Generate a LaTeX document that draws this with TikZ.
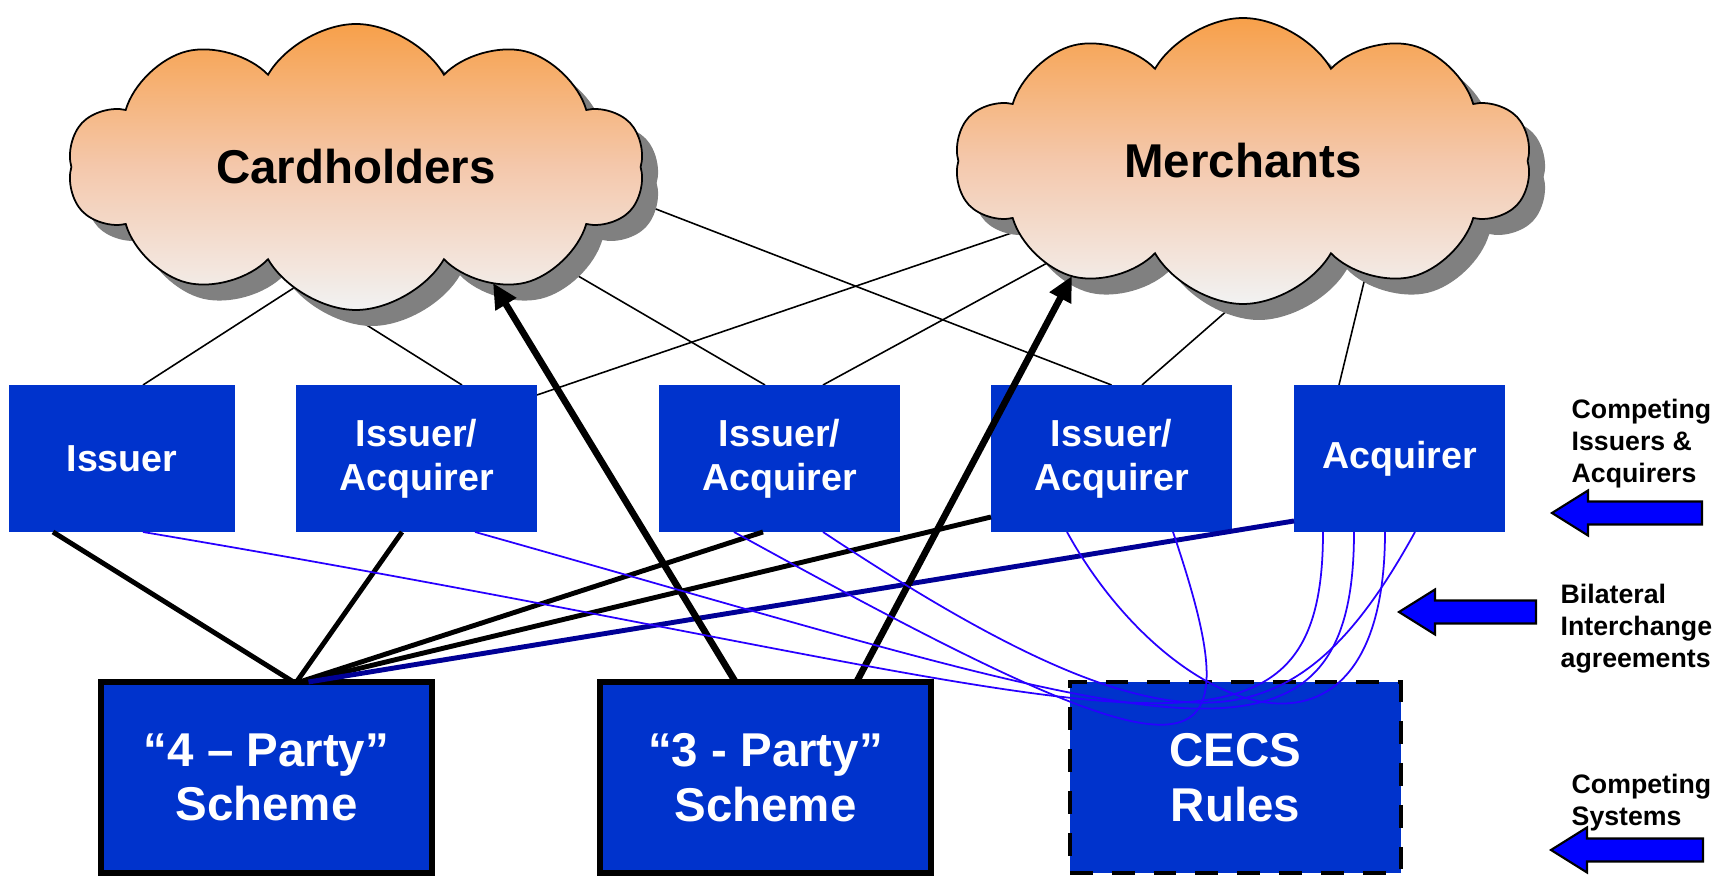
\documentclass[tikz,border=0pt]{standalone}
\usepackage{fontspec}
\setmainfont{Liberation Sans}
\usetikzlibrary{positioning,shapes.symbols,shadows,arrows.meta,backgrounds}

\definecolor{boxblue}{RGB}{0,51,204}
\definecolor{dealblue}{RGB}{40,0,255}
\definecolor{navyline}{RGB}{0,0,150}
\definecolor{hintblue}{RGB}{0,0,255}
\definecolor{cloudtop}{RGB}{247,160,74}
\definecolor{cloudmid}{RGB}{244,200,172}
\definecolor{cloudbot}{RGB}{242,242,242}
\definecolor{shadowgray}{RGB}{128,128,128}

\begin{document}
\begin{tikzpicture}[
    crowd/.style={cloud, cloud puffs=10, cloud puff arc=120, aspect=2,
      draw=black, line width=0.5pt,
      top color=cloudtop, bottom color=cloudbot, middle color=cloudmid,
      drop shadow={shadow xshift=0.16cm, shadow yshift=-0.16cm,
        fill=shadowgray, opacity=1},
      minimum width=5.76cm, minimum height=2.86cm, inner sep=0,
      font=\fontsize{13.5}{16}\selectfont\bfseries},
    topbox/.style={fill=boxblue, text=white, align=center,
      minimum height=1.47cm, inner sep=0, outer sep=0,
      font=\fontsize{10.7}{12.5}\selectfont\bfseries},
    scheme/.style={draw=black, line width=1.7pt, fill=boxblue, text=white,
      align=center, minimum width=3.31cm, minimum height=1.91cm,
      inner sep=0, outer sep=0,
      font=\fontsize{13.5}{15.6}\selectfont\bfseries},
    rules/.style={scheme, line width=1.4pt, dash pattern=on 6.5pt off 5.4pt},
    note/.style={anchor=west, align=left, inner sep=0,
      font=\fontsize{7.6}{9.1}\selectfont\bfseries},
    link/.style={draw=black, line width=0.45pt},
    tie/.style={draw=black, line width=1.4pt},
    push/.style={draw=black, line width=1.9pt,
      -{Triangle[length=0.25cm,width=0.23cm]}},
    deal/.style={draw=dealblue, line width=0.5pt},
    hint/.style={fill=hintblue, draw=black, line width=0.6pt}
  ]
  \useasboundingbox (0,0) rectangle (17.25,-8.76);

  % clouds
  \node[crowd] (card) at (3.56,-1.67) {Cardholders};
  \node[crowd, right=3.16cm of card, yshift=0.06cm] (merch) {Merchants};

  % issuers and acquirers
  \node[topbox, minimum width=2.26cm] (iss) at (1.22,-4.585) {Issuer};
  \node[topbox, minimum width=2.41cm, right=0.61cm of iss] (isac1) {Issuer/\\Acquirer};
  \node[topbox, minimum width=2.41cm, right=1.22cm of isac1] (isac2) {Issuer/\\Acquirer};
  \node[topbox, minimum width=2.41cm, right=0.91cm of isac2] (isac3) {Issuer/\\Acquirer};
  \node[topbox, minimum width=2.11cm, right=0.62cm of isac3] (acq) {Acquirer};

  % schemes
  \node[scheme] (four) at (2.665,-7.775) {“4 – Party”\\Scheme};
  \node[scheme, right=1.68cm of four] (three) {“3 - Party”\\Scheme};
  \node[rules, right=1.39cm of three] (cecs) {CECS\\Rules};

  % side notes
  \node[note] (n1) at (15.71,-4.44) {Competing\\Issuers \&\\Acquirers};
  \node[note] (n2) at (15.60,-6.29) {Bilateral\\Interchange\\agreements};
  \node[note] (n3) at (15.71,-8.03) {Competing\\Systems};
  \foreach \x/\y/\l in {15.52/-5.13/1.50, 13.99/-6.12/1.37, 15.51/-8.50/1.52}
    \draw[hint] (\x,\y) -- ++(0.36,0.225) -- ++(0,-0.11) -- ++(\l-0.36,0)
      -- ++(0,-0.23) -- ++(-\l+0.36,0) -- ++(0,-0.11) -- cycle;

  % customers to banks
  \begin{scope}[on background layer]
    \draw[link] ([shift={(-0.53,-1.15)}]card.center) -- ([xshift=0.21cm]iss.north);
    \draw[link] ([shift={(-0.34,-1.30)}]card.center) -- ([xshift=0.455cm]isac1.north);
    \draw[link] ([shift={(1.33,-0.57)}]card.center) -- ([xshift=-0.145cm]isac2.north);
    \draw[link] ([shift={(1.47,0.17)}]card.center) -- (isac3.north);
    \draw[link] ([shift={(-1.23,-0.35)}]merch.center) -- ([yshift=-0.1cm]isac1.north east);
    \draw[link] ([shift={(-1.37,-0.70)}]merch.center) -- ([xshift=0.435cm]isac2.north);
    \draw[link] ([shift={(0.10,-1.27)}]merch.center) -- ([xshift=0.305cm]isac3.north);
    \draw[link] ([shift={(1.30,-0.84)}]merch.center) -- ([xshift=-0.605cm]acq.north);
  \end{scope}

  % 4 party
  \draw[tie] ([xshift=0.44cm]iss.south west) -- ([xshift=0.27cm]four.north);
  \draw[tie] ([xshift=-0.145cm]isac1.south) -- ([xshift=0.30cm]four.north);
  \draw[tie] ([xshift=-0.165cm]isac2.south) -- ([xshift=0.33cm]four.north);
  \draw[tie] ([yshift=0.15cm]isac3.south west) -- ([xshift=0.36cm]four.north);
  \draw[tie, draw=navyline] ([yshift=0.11cm]acq.south west) -- ([xshift=0.42cm]four.north);

  % 3 party
  \draw[push] ([xshift=-0.30cm]three.north) -- ([shift={(1.37,-1.16)}]card.center);
  \draw[push] ([xshift=0.91cm]three.north) -- ([shift={(-1.71,-1.15)}]merch.center);

  % bilateral
  \draw[deal] ([xshift=0.21cm]iss.south) .. controls +(9.57,-1.61) and +(0,-2.87) .. ([xshift=-0.765cm]acq.south);
  \draw[deal] ([xshift=0.585cm]isac1.south) .. controls +(6.75,-1.90) and +(0,-2.77) .. ([xshift=-0.455cm]acq.south);
  \draw[deal] ([xshift=-0.445cm]isac3.south) .. controls +(1.03,-1.87) and +(0,-2.67) .. ([xshift=-0.145cm]acq.south);
  \draw[deal] ([xshift=0.435cm]isac2.south) .. controls +(3.57,-2.37) and +(-1.20,-2.18) .. ([xshift=0.155cm]acq.south);
  \draw[deal] ([xshift=-0.455cm]isac2.south) .. controls +(4.66,-2.57) and +(0.87,-2.57) .. ([xshift=0.615cm]isac3.south);
\end{tikzpicture}
\end{document}
